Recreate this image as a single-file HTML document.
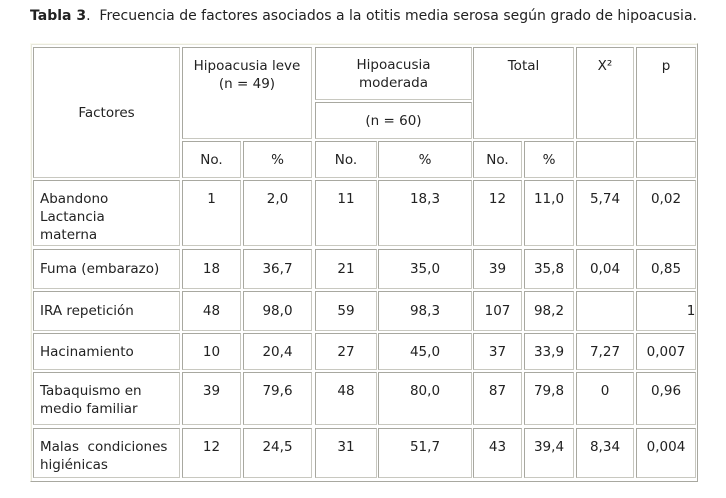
<!DOCTYPE html><html><head><style>
body{margin:0;width:726px;height:498px;background:#fff;position:relative;font-family:"DejaVu Sans","Liberation Sans",sans-serif;font-size:13.5px;color:#222;overflow:hidden}
.t{position:absolute;border:1px solid #fafaf0;border-right-color:#a8a8a0;border-bottom-color:#a8a8a0;box-shadow:inset 1px 1px 0 #e8e8dc}
.c{position:absolute;box-sizing:border-box;border:1px solid #c8c8c0;border-top-color:#a8a8a0;border-left-color:#a8a8a0;display:flex;justify-content:center;align-items:center;text-align:center;line-height:18px}
.top{align-items:flex-start;padding-top:9px}
.l{justify-content:flex-start;text-align:left;padding-left:6px}
</style></head><body>
<div style="position:absolute;left:30px;top:8px;white-space:nowrap;font-size:14px"><b>Tabla 3</b>.&nbsp; Frecuencia de factores asociados a la otitis media serosa según grado de hipoacusia.</div>
<div class="t" style="left:30px;top:43px;width:666px;height:437px"></div>
<div class="c" style="left:33px;top:47px;width:147px;height:131px">Factores</div>
<div class="c top" style="left:182px;top:47px;width:130px;height:92px">Hipoacusia leve<br>(n = 49)</div>
<div class="c top" style="left:315px;top:47px;width:157px;height:53px;padding-top:8px">Hipoacusia<br>moderada</div>
<div class="c" style="left:315px;top:102px;width:157px;height:37px">(n = 60)</div>
<div class="c top" style="left:473px;top:47px;width:101px;height:92px">Total</div>
<div class="c top" style="left:576px;top:47px;width:58px;height:92px">X²</div>
<div class="c top" style="left:636px;top:47px;width:60px;height:92px">p</div>
<div id="rows"></div>
<script>
var cols=[[33,147],[182,59],[243,69],[315,62],[378,94],[473,49],[524,50],[576,58],[636,60]];
var rows=[[141,37,["Factores-skip","No.","%","No.","%","No.","%","",""]],
[180,66,["Abandono<br>Lactancia<br>materna","1","2,0","11","18,3","12","11,0","5,74","0,02"]],
[249,40,["Fuma (embarazo)","18","36,7","21","35,0","39","35,8","0,04","0,85"]],
[291,40,["IRA repetición","48","98,0","59","98,3","107","98,2","","<span style='margin-left:50px'>1</span>"]],
[333,37,["Hacinamiento","10","20,4","27","45,0","37","33,9","7,27","0,007"]],
[372,53,["Tabaquismo en<br>medio familiar","39","79,6","48","80,0","87","79,8","0","0,96"]],
[428,50,["Malas&nbsp; condiciones<br>higiénicas","12","24,5","31","51,7","43","39,4","8,34","0,004"]]];
var h="";
rows.forEach(function(r,ri){r[2].forEach(function(txt,ci){
 if(ri==0&&ci==0)return;
 var cls="c"+(ri>0&&(r[1]>45)?" top":"")+(ci==0?" l":"");
 h+='<div class="'+cls+'" style="left:'+cols[ci][0]+'px;top:'+r[0]+'px;width:'+cols[ci][1]+'px;height:'+r[1]+'px">'+txt+'</div>';
});});
document.getElementById("rows").innerHTML=h;
</script>
</body></html>
